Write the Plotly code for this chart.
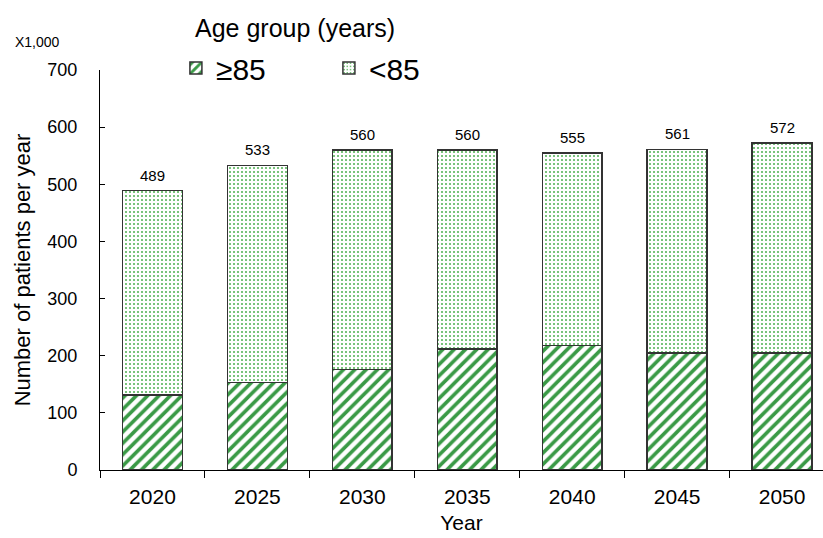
import plotly.graph_objects as go

years = ["2020", "2025", "2030", "2035", "2040", "2045", "2050"]
over85 = [131, 153, 176, 212, 218, 205, 205]
under85 = [358, 380, 384, 348, 337, 356, 367]
totals = [489, 533, 560, 560, 555, 561, 572]
y_ticks = [0, 100, 200, 300, 400, 500, 600, 700]

FONT = "Liberation Sans, Arial, sans-serif"
GREEN = "#3a9a46"
DOT = "#4caf50"

fig = go.Figure()
fig.add_trace(go.Bar(
    x=years, y=over85, name="≥85", width=0.57,
    marker=dict(color="white", line=dict(color="#333333", width=1.5),
                pattern=dict(shape="/", fgcolor=GREEN, bgcolor="white",
                             size=8, solidity=0.45, fillmode="overlay", fgopacity=1)),
))
fig.add_trace(go.Bar(
    x=years, y=under85, name="<85", width=0.57,
    marker=dict(color="white", line=dict(color="#333333", width=1.5),
                pattern=dict(shape=".", fgcolor=DOT, bgcolor="white",
                             size=4, solidity=0.2, fillmode="overlay", fgopacity=1)),
))

annotations = [dict(
    x=i, y=t, text=str(t), xref="x", yref="y", showarrow=False,
    yanchor="bottom", yshift=5, font=dict(size=15, family=FONT, color="black"),
) for i, t in enumerate(totals)]
annotations.append(dict(
    text="X1,000", xref="paper", yref="paper", x=-0.12, y=1.07,
    xanchor="left", yanchor="middle", showarrow=False,
    font=dict(size=14, family=FONT, color="black"),
))
annotations.append(dict(
    text="Age group (years)", xref="paper", yref="paper", x=0.1286, y=1.106,
    xanchor="left", yanchor="middle", showarrow=False,
    font=dict(size=25, family=FONT, color="black"),
))

fig.update_layout(
    width=823, height=538,
    margin=dict(l=100, r=0, t=70, b=68),
    barmode="stack",
    plot_bgcolor="white", paper_bgcolor="white",
    font=dict(family=FONT, color="black"),
    showlegend=True,
    legend=dict(
        orientation="h", x=0.105, y=1.07, xanchor="left", yanchor="top",
        font=dict(size=30), entrywidth=108, bgcolor="rgba(0,0,0,0)",
        traceorder="normal",
    ),
    xaxis=dict(
        type="category", range=[-0.5, 6.39],
        showline=True, linecolor="black", linewidth=1,
        ticks="outside", tickson="boundaries", ticklen=7, tickcolor="black",
        tickfont=dict(size=21), showgrid=False, ticklabelstandoff=8,
        title=dict(text="Year", font=dict(size=21), standoff=8),
    ),
    yaxis=dict(
        range=[0, 700], tickvals=y_ticks,
        showline=True, linecolor="black", linewidth=1,
        ticks="inside", ticklen=5, tickcolor="black",
        tickfont=dict(size=18), showgrid=False, zeroline=False,
        ticklabelstandoff=18,
        title=dict(text="Number of patients per year", font=dict(size=22), standoff=10),
    ),
    annotations=annotations,
)

fig.write_html("out.html")
